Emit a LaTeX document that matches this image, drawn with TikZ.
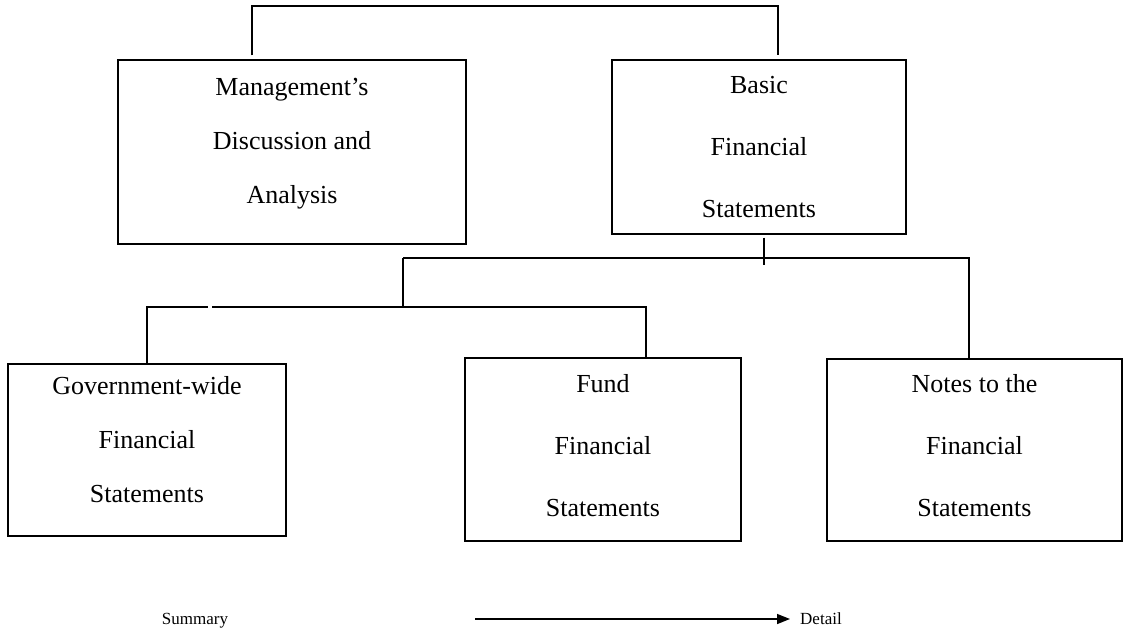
\documentclass[tikz,border=0pt]{standalone}
\usepackage{fontspec}
\setmainfont{Liberation Serif}
\usetikzlibrary{positioning}
\usetikzlibrary{arrows.meta}
\tikzset{box/.style={draw, line width=1.3pt, inner sep=0pt}}
\tikzset{boxtext/.style={align=center, anchor=base, inner sep=0pt}}
\tikzset{tighttext/.style={boxtext, font=\fontsize{26}{54}\selectfont}}
\tikzset{widetext/.style={boxtext, font=\fontsize{26}{62}\selectfont}}
\tikzset{link/.style={line width=1.2pt}}
\tikzset{scaletext/.style={inner sep=0pt, font=\fontsize{17}{20}\selectfont}}

\begin{document}
\begin{tikzpicture}[x=1pt, y=-1pt]
\useasboundingbox (0,0) rectangle (1133,635);
% top row
\node[box, minimum width=348pt, minimum height=184pt] (mda) at (292,152) {};
\node[box, minimum width=294pt, minimum height=174pt] (basic) at (759,147) {};
\node[tighttext] (mdatext) at (292,203) {Management's\\Discussion and\\Analysis};
\node[widetext] (basictext) at (759,217) {Basic\\Financial\\Statements};
% bottom row
\node[box, minimum width=278pt, minimum height=172pt] (gov) at (147,450) {};
\node[box, minimum width=276pt, minimum height=183pt] (fund) at (603,449.5) {};
\node[box, minimum width=295pt, minimum height=182pt] (notes) at (974.5,450) {};
\node[tighttext] (govtext) at (147,502) {Government-wide\\Financial\\Statements};
\node[widetext] (fundtext) at (603,516) {Fund\\Financial\\Statements};
\node[widetext] (notestext) at (974.5,516) {Notes to the\\Financial\\Statements};
% connectors
\coordinate (topbar) at (0,6);
\coordinate (midbar) at (403,258);
\coordinate (lowbar) at (0,307);
\coordinate (gapl) at (208,307);
\coordinate (gapr) at (212,307);
\coordinate (mdaup) at ([xshift=-40pt,yshift=4pt]mda.north);
\coordinate (basicup) at ([xshift=19pt,yshift=4pt]basic.north);
\draw[link] (mdaup) -- (mdaup |- topbar) -- (basicup |- topbar) -- (basicup);
\draw[link] ([xshift=5pt,yshift=-3pt]basic.south) -- ([xshift=5pt,yshift=-30pt]basic.south);
\draw[link] (midbar) -| ([xshift=-5.5pt]notes.north);
\draw[link] (midbar) -- (midbar |- lowbar);
\draw[link] (gov.north) |- (gapl);
\draw[link] (gapr) -| ([xshift=43pt]fund.north);
% summary to detail
\node[scaletext, anchor=base] (summary) at (195,624) {Summary};
\node[scaletext, anchor=base west] (detail) at (800,624) {Detail};
\coordinate (arrowstart) at (475,619);
\draw[line width=1.5pt, -{Triangle[length=13pt,width=10pt]}, shorten >=10pt] (arrowstart) -- (arrowstart -| detail.west);
\end{tikzpicture}
\end{document}
